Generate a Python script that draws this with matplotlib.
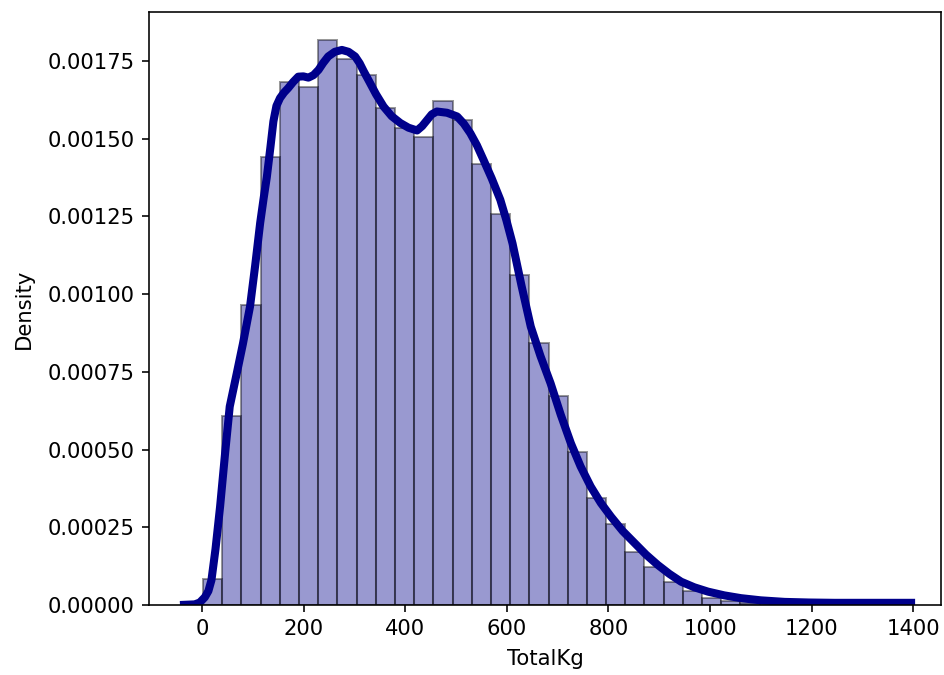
"""Density histogram of TotalKg with a KDE overlay."""

import matplotlib

matplotlib.use("Agg")
import matplotlib.pyplot as plt
import numpy as np

# Histogram (density), bins start at ~0 kg
bin_start = 1.5
bin_width = 37.8
bar_heights = [
    0.000083, 0.000608, 0.000965, 0.00144, 0.001683, 0.001667, 0.001817,
    0.001755, 0.001705, 0.001598, 0.001533, 0.001504, 0.001622, 0.00156,
    0.001419, 0.001258, 0.001061, 0.000844, 0.000673, 0.000493, 0.000343,
    0.00026, 0.000171, 0.000123, 0.000075, 0.000045, 0.000024, 0.000012,
    0.000006, 0.000003, 0.000002, 0.000001, 0.000001, 0.000001, 0.0, 0.000001,
]

# KDE curve points (kg, density)
kde_x = [
    -44, -15, -5, 5, 12, 18, 26, 35, 45, 54, 68, 80, 94, 104, 114, 121, 127,
    134, 140, 146, 153, 161, 169, 179, 189, 199, 209, 219, 229, 238, 248,
    261, 275, 288, 301, 310, 318, 327, 342, 357, 373, 390, 406, 423, 433,
    443, 452, 462, 482, 502, 515, 528, 541, 554, 570, 587, 599, 611, 629,
    647, 666, 686, 706, 726, 745, 765, 785, 805, 828, 851, 874, 897, 920,
    943, 969, 996, 1028, 1061, 1100, 1147, 1195, 1245, 1320, 1404,
]
kde_y = [
    0.0, 0.000002, 0.000008, 0.000025, 0.000045, 0.00008, 0.00018, 0.000316,
    0.00049, 0.000638, 0.000746, 0.00084, 0.00096, 0.00109, 0.001229,
    0.00131, 0.001375, 0.00147, 0.001555, 0.001605, 0.00163, 0.001648,
    0.001662, 0.001682, 0.001699, 0.0017, 0.001696, 0.001704, 0.001721,
    0.001743, 0.001764, 0.001779, 0.001785, 0.001779, 0.001764, 0.001742,
    0.001716, 0.001689, 0.001643, 0.001603, 0.001572, 0.00155, 0.001535,
    0.001526, 0.00154, 0.00156, 0.001578, 0.001587, 0.001583, 0.001571,
    0.001548, 0.001517, 0.001478, 0.001431, 0.001372, 0.001303, 0.001237,
    0.001163, 0.001025, 0.000895, 0.000801, 0.000713, 0.000612, 0.00052,
    0.000446, 0.000381, 0.000328, 0.000284, 0.000238, 0.0002, 0.000162,
    0.000129, 0.0001, 0.000075, 0.000057, 0.000043, 0.000031, 0.000022,
    0.000015, 0.00001, 0.000008, 0.000007, 0.000007, 0.000007,
]

dpi = 145
plt.rcParams["font.size"] = 10.5
fig = plt.figure(figsize=(944 / dpi, 675 / dpi), dpi=dpi)
ax = fig.add_axes([149 / 944, 70 / 675, (941 - 149) / 944, (605 - 12) / 675])

lefts = bin_start + bin_width * np.arange(len(bar_heights))
ax.bar(lefts, bar_heights, width=bin_width, align="edge", color="darkblue",
       alpha=0.4, edgecolor="black", linewidth=1.0)
ax.plot(kde_x, kde_y, color="darkblue", linewidth=4,
        solid_capstyle="butt", solid_joinstyle="round")

ax.set_xlim(-105, 1455)
ax.set_ylim(0, 0.001907)
ax.set_yticks(np.arange(0, 0.00176, 0.00025))
ax.yaxis.set_major_formatter(matplotlib.ticker.FormatStrFormatter("%.5f"))
ax.set_xticks(np.arange(0, 1401, 200))
ax.set_xlabel("TotalKg", labelpad=5)
ax.set_ylabel("Density", labelpad=7)

fig.savefig("out.png", dpi=dpi)
